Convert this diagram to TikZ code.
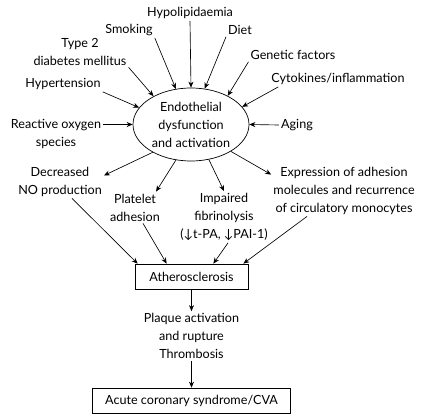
\documentclass[tikz,border=0pt]{standalone}
\usepackage{fontspec}
\setmainfont{Lato}
\usepackage{tikz}
\usetikzlibrary{shapes.geometric, arrows.meta, positioning}
\tikzset{
    % Node Styles
    factor/.style={align=center, inner sep=2pt, font=\fontsize{12.6}{18}\selectfont},
    hub/.style={ellipse, draw, line width=0.7pt, minimum width=116pt, minimum height=73pt,
        inner sep=0pt, align=center, font=\fontsize{12.6}{18}\selectfont},
    outcome/.style={rectangle, draw, line width=0.7pt, minimum height=25pt,
        inner sep=4pt, align=center, font=\fontsize{12.6}{18}\selectfont},
    arrow/.style={line width=0.65pt, -{Stealth[length=6pt, width=5pt]}}
}
\begin{document}
\begin{tikzpicture}[x=1pt, y=-1pt, node distance=59.5pt]
    \useasboundingbox (0,0) rectangle (423,419);
    % Risk factors
    \node (endo) [hub] at (191,124.5) {Endothelial\\dysfunction\\and activation};
    \node (hypo) [factor] at (190,13) {Hypolipidaemia};
    \node (smoke) [factor] at (129,30) {Smoking};
    \node (diet) [factor] at (240,30) {Diet};
    \node (diab) [factor] at (80,51.5) {Type 2\\diabetes mellitus};
    \node (gene) [factor] at (293,55) {Genetic factors};
    \node (hyper) [factor] at (63,84) {Hypertension};
    \node (cyto) [factor] at (338,79) {Cytokines/inflammation};
    \node (ros) [factor] at (56,133.5) {Reactive oxygen\\species};
    \node (aging) [factor] at (297,125) {Aging};
    % Consequences
    \node (no) [factor] at (60,181.5) {Decreased\\NO production};
    \node (plat) [factor] at (135,207.5) {Platelet\\adhesion};
    \node (fibr) [factor] at (224,217) {Impaired\\fibrinolysis\\(↓t-PA, ↓PAI-1)};
    \node (adh) [factor] at (344,190.5) {Expression of adhesion\\molecules and recurrence\\of circulatory monocytes};
    % Outcome chain
    \node (athero) [outcome, minimum width=113pt] at (191.5,276.5) {Atherosclerosis};
    \node (plaque) [factor, below of=athero] {Plaque activation\\and rupture\\Thrombosis};
    \node (acs) [outcome, minimum width=198pt, below of=plaque, yshift=-5pt] {Acute coronary syndrome/CVA};

    \draw [arrow] (hypo.south) -- (endo.90);
    \draw [arrow] (smoke.south east) -- (endo.113);
    \draw [arrow] (diet.south west) -- (endo.69);
    \draw [arrow] (diab.south east) -- (endo.143);
    \draw [arrow] (gene.south west) -- (endo.38);
    \draw [arrow] (hyper.south east) -- (endo.162);
    \draw [arrow] ([xshift=9pt]cyto.south west) -- (endo.19);
    \draw [arrow] (ros.east |- endo.west) -- (endo.west);
    \draw [arrow] (aging.west) -- (endo.east);

    \draw [arrow] (endo.216) -- ([yshift=6pt]no.east);
    \draw [arrow] (endo.247) -- ([xshift=-6pt]plat.north east);
    \draw [arrow] (endo.297) -- (fibr.north);
    \draw [arrow] (endo.326) -- ([yshift=-10pt]adh.north west);

    \draw [arrow] ([xshift=12pt]no.south) -- ([xshift=3pt]athero.north west);
    \draw [arrow] ([xshift=8pt]plat.south) -- ([xshift=32pt]athero.north west);
    \draw [arrow] ([xshift=4pt]fibr.south) -- ([xshift=-35pt]athero.north east);
    \draw [arrow] ([xshift=-37pt]adh.south) -- ([xshift=-5pt]athero.north east);
    \draw [arrow] (athero.south) -- (plaque.north);
    \draw [arrow] (plaque.south) -- (acs.north);
\end{tikzpicture}
\end{document}
